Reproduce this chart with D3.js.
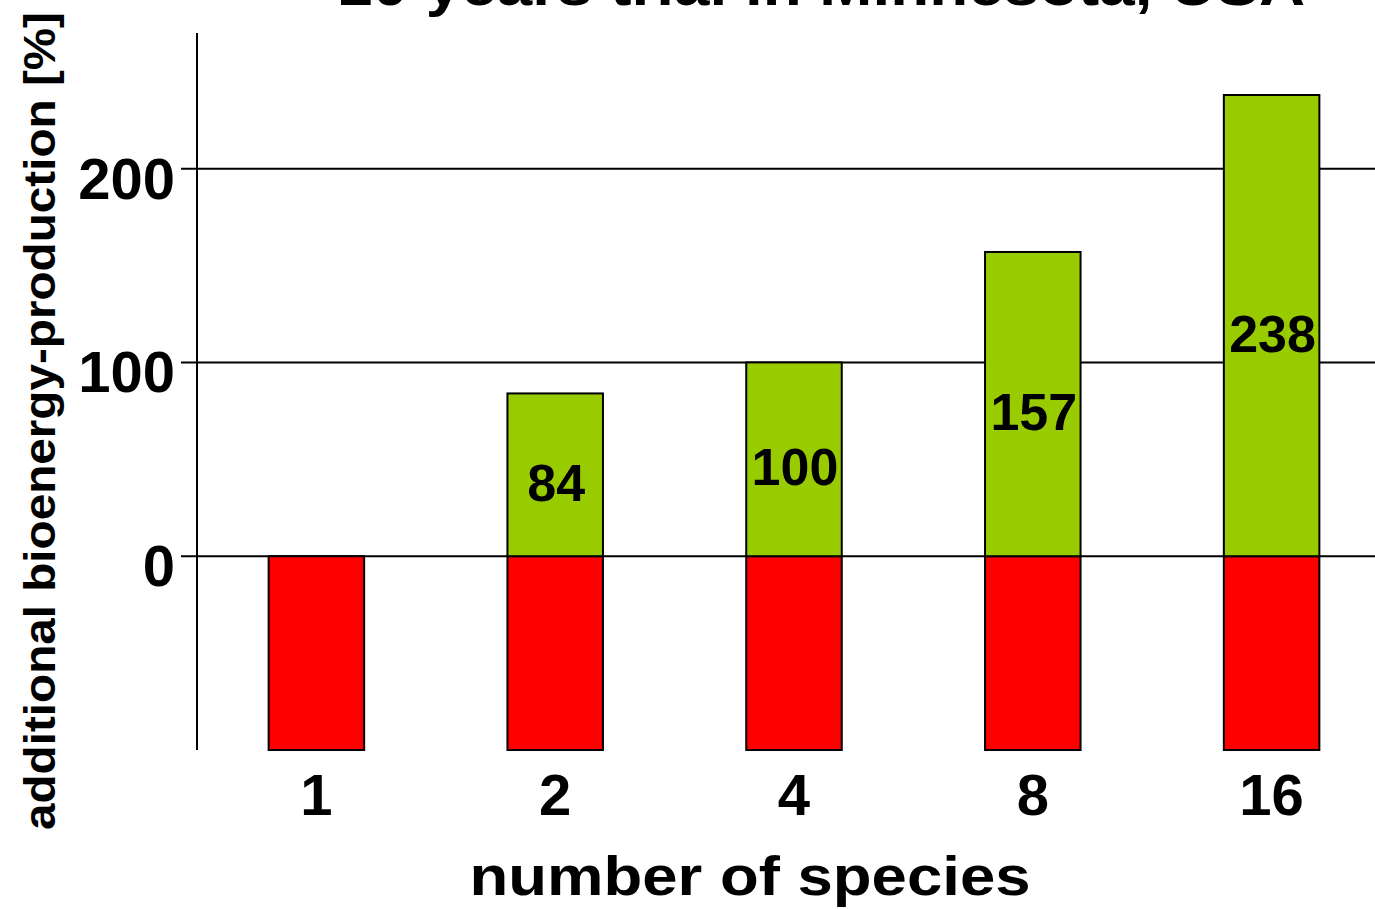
<!DOCTYPE html>
<html>
<head>
<meta charset="utf-8">
<script src="https://cdn.jsdelivr.net/npm/d3@7"></script>
<style>
  body { margin: 0; background: #fff; }
  text { font-family: "Liberation Sans", Arial, sans-serif; font-weight: bold; fill: #000; }
</style>
</head>
<body>
<script>
// data
let species = ['1', '2', '4', '8', '16'];
let baseValues = [-100, -100, -100, -100, -100]; // red part (monoculture base)
let extraValues = [0, 84, 100, 157, 238]; // green part, additional production
let extraLabels = ['', '84', '100', '157', '238'];
let yTicks = [0, 100, 200];

let width = 1375, height = 909;

let svg = d3.select('body').append('svg')
    .attr('width', width)
    .attr('height', height);

let x = d3.scaleBand()
    .domain(species)
    .range([197, 1391])
    .paddingInner(0.6)
    .paddingOuter(0.3);

let y = d3.scaleLinear()
    .domain([-100, 270])
    .range([750, 33]);

// grid lines + ticks
svg.append('g')
  .selectAll('line')
  .data(yTicks)
  .enter().append('line')
    .attr('x1', 181)
    .attr('x2', width)
    .attr('y1', d => y(d))
    .attr('y2', d => y(d))
    .attr('stroke', '#000')
    .attr('stroke-width', 2);

// y axis line
svg.append('line')
    .attr('x1', 197).attr('x2', 197)
    .attr('y1', y(270)).attr('y2', y(-100))
    .attr('stroke', '#000')
    .attr('stroke-width', 2);

// y tick labels
svg.append('g')
  .selectAll('text')
  .data(yTicks)
  .enter().append('text')
    .attr('x', 175)
    .attr('y', d => y(d) + 30)
    .attr('text-anchor', 'end')
    .style('font-size', '58px')
    .text(d => d);

// red bars
svg.append('g')
  .selectAll('rect')
  .data(species)
  .enter().append('rect')
    .attr('x', d => x(d))
    .attr('width', x.bandwidth())
    .attr('y', y(0))
    .attr('height', (d, i) => y(baseValues[i]) - y(0))
    .attr('fill', '#ff0000')
    .attr('stroke', '#000')
    .attr('stroke-width', 2);

// green bars
svg.append('g')
  .selectAll('rect')
  .data(species.filter((d, i) => extraValues[i] > 0))
  .enter().append('rect')
    .attr('x', d => x(d))
    .attr('width', x.bandwidth())
    .attr('y', d => y(extraValues[species.indexOf(d)]))
    .attr('height', d => y(0) - y(extraValues[species.indexOf(d)]))
    .attr('fill', '#99cc00')
    .attr('stroke', '#000')
    .attr('stroke-width', 2);

// value labels inside green bars
svg.append('g')
  .selectAll('text')
  .data(species.filter((d, i) => extraValues[i] > 0))
  .enter().append('text')
    .attr('x', d => x(d) + x.bandwidth() / 2 + 1)
    .attr('y', d => (y(0) + y(extraValues[species.indexOf(d)])) / 2 + 26)
    .attr('text-anchor', 'middle')
    .style('font-size', '52px')
    .text(d => extraLabels[species.indexOf(d)]);

// x tick labels
svg.append('g')
  .selectAll('text')
  .data(species)
  .enter().append('text')
    .attr('x', d => x(d) + x.bandwidth() / 2)
    .attr('y', 815)
    .attr('text-anchor', 'middle')
    .style('font-size', '58px')
    .text(d => d);

// x axis title
svg.append('text')
    .attr('x', 750)
    .attr('y', 895)
    .attr('text-anchor', 'middle')
    .attr('textLength', 561)
    .attr('lengthAdjust', 'spacingAndGlyphs')
    .style('font-size', '56px')
    .text('number of species');

// y axis title
svg.append('text')
    .attr('transform', 'translate(55,421) rotate(-90)')
    .attr('text-anchor', 'middle')
    .attr('textLength', 818)
    .attr('lengthAdjust', 'spacingAndGlyphs')
    .style('font-size', '44px')
    .text('additional bioenergy-production [%]');

// title, cut off at the top like in the original slide
svg.append('text')
    .attr('x', 821)
    .attr('y', 5)
    .attr('text-anchor', 'middle')
    .attr('textLength', 968)
    .attr('lengthAdjust', 'spacingAndGlyphs')
    .style('font-size', '58px')
    .text('10 years trial in Minnesota, USA');
</script>
</body>
</html>
